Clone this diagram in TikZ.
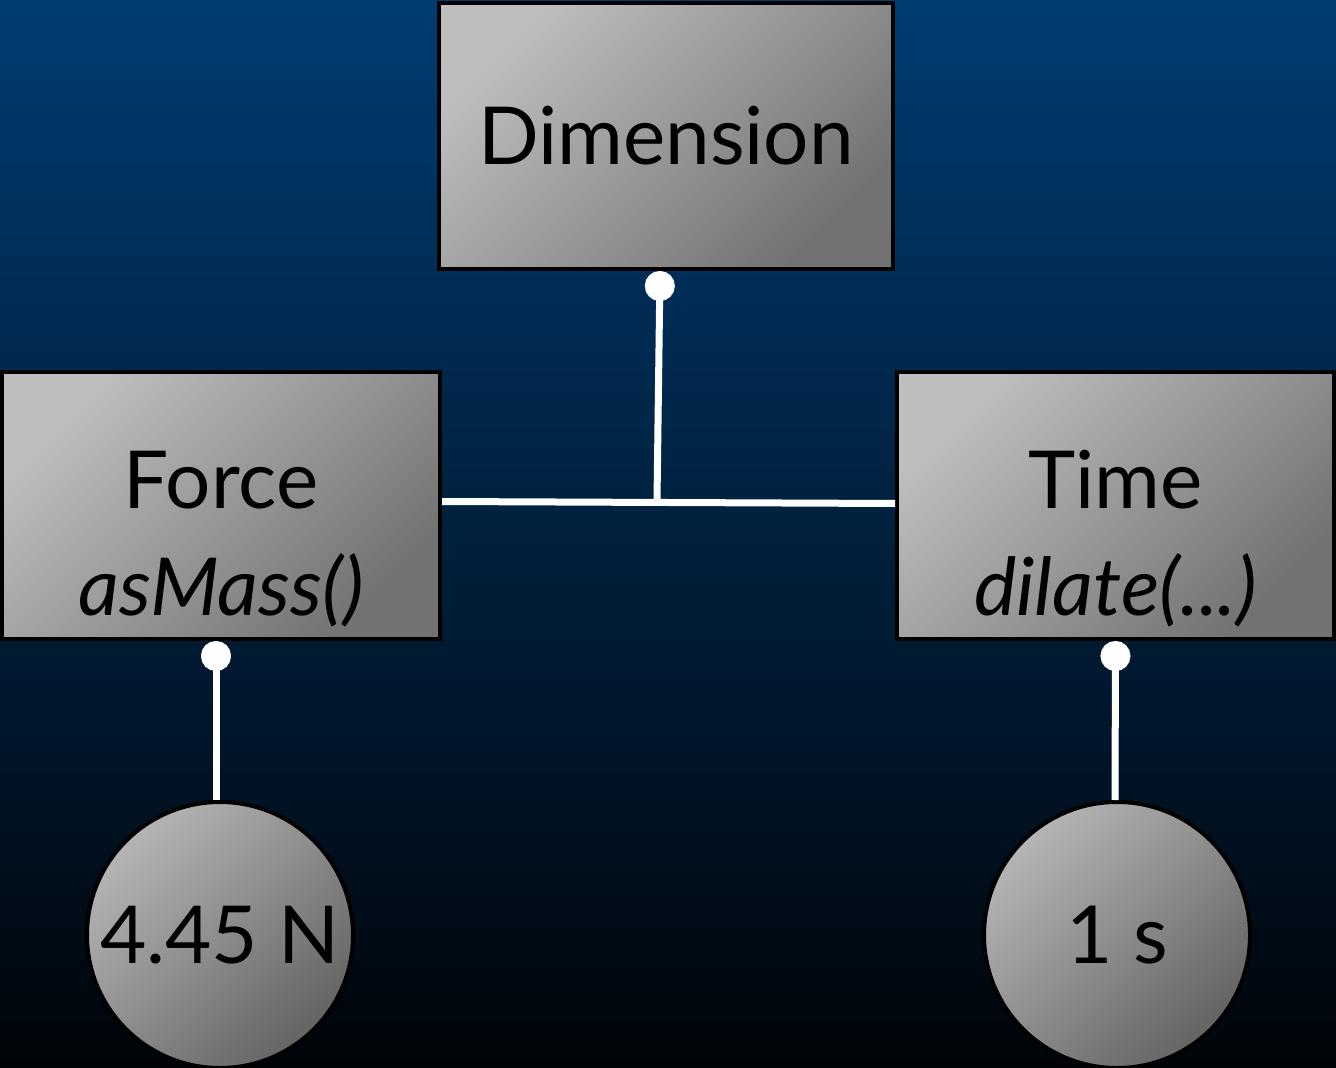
\documentclass[tikz,border=0pt]{standalone}
\usepackage{fontspec}
\setmainfont{Lato}
\usetikzlibrary{arrows.meta}
\definecolor{bgtop}{HTML}{003C72}
\definecolor{bgbot}{HTML}{000408}
\definecolor{boxlight}{HTML}{BEBEBE}
\definecolor{boxdark}{HTML}{727272}
\newcommand{\twolines}[2]{\raisebox{-24pt}[0pt][0pt]{\begin{tabular}{@{}c@{}}#1\\\itshape #2\end{tabular}}}
\tikzset{
  px/.style={x=0.5pt,y=-0.5pt},
  gbox/.style={rectangle,draw=black,line width=2pt,top color=boxlight,bottom color=boxdark,shading angle=45,
    inner sep=0pt,align=center,font=\fontsize{40}{53.5}\selectfont},
  gcirc/.style={circle,draw=black,line width=2pt,top color=boxlight!95!black,bottom color=boxdark!110,shading angle=45,
    inner sep=0pt,minimum size=133pt,font=\fontsize{40}{48}\selectfont},
  link/.style={draw=white,line width=3.5pt},
  dotlink/.style={link,{Circle[length=15pt,width=15pt]}-}
}
\begin{document}
\begin{tikzpicture}[px]
\shade[top color=bgtop,bottom color=bgbot] (0,0) rectangle (1336,1068);
\useasboundingbox (0,0) rectangle (1336,1068);
\node[gbox,minimum width=227pt,minimum height=133pt] (D) at (666,136) {Dimension};
\node[gbox,minimum width=219pt,minimum height=133.5pt] (F) at (221,505.5) {\twolines{Force}{asMass()}};
\node[gbox,minimum width=218.5pt,minimum height=133.5pt] (T) at (1115.5,505.5) {\twolines{Time}{dilate(...)}};
\node[gcirc] (N) at (220,935) {4.45 N};
\node[gcirc] (S) at (1117,935) {1 s};
\coordinate (j) at (657,500);
\draw[link] ([yshift=2pt]F.east) -- ([yshift=1pt]T.west);
\draw[dotlink] ([xshift=-3pt]D.south) -- (j);
\draw[dotlink] ([xshift=-2.5pt]F.south) -- ([xshift=-2pt]N.north);
\draw[dotlink] (T.south) -- ([xshift=-1pt]S.north);
\end{tikzpicture}
\end{document}
